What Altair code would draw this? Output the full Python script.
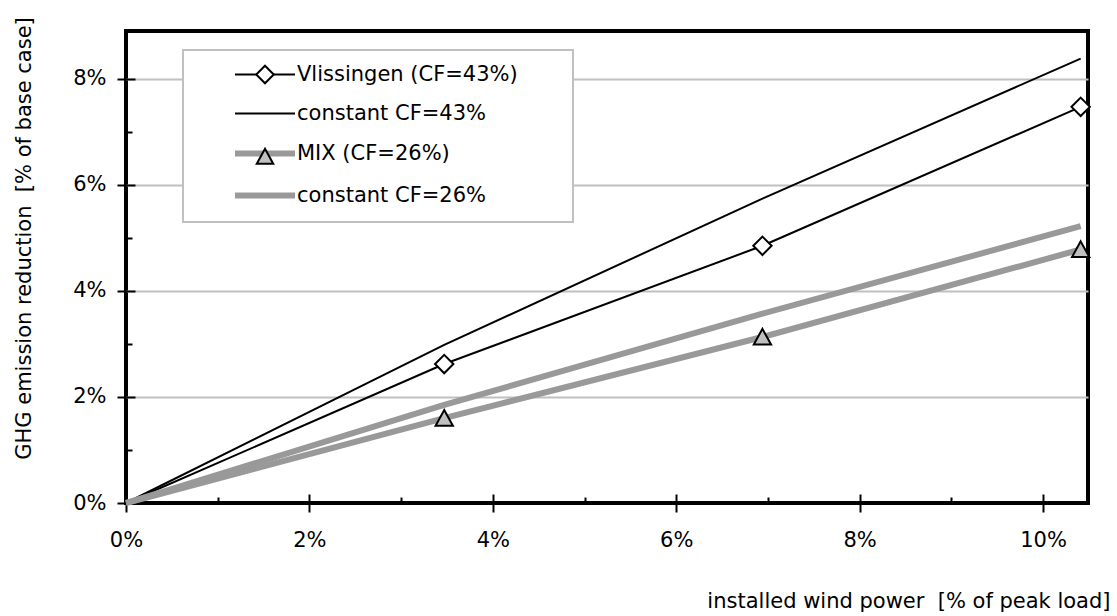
import altair as alt
import pandas as pd

# Installed wind power (% of peak load) at which each scenario was evaluated
x_pct = [0.0, 3.47, 6.94, 10.41]

# GHG emission reduction (% of base case)
vlissingen = [0.0, 2.62, 4.85, 7.47]
const_43 = [0.0, 2.98, 5.74, 8.38]
mix = [0.0, 1.60, 3.13, 4.78]
const_26 = [0.0, 1.85, 3.57, 5.22]

series_names = ["Vlissingen (CF=43%)", "constant CF=43%", "MIX (CF=26%)", "constant CF=26%"]
series_values = [vlissingen, const_43, mix, const_26]
has_markers = [True, False, True, False]

x_ticks = [0, 2, 4, 6, 8, 10]
y_ticks = [0, 2, 4, 6, 8]
x_minor = list(range(0, 11))
y_minor = list(range(0, 9))

X_MAX, Y_MAX = 10.49, 8.9
W, H = 962, 472
FONT = "DejaVu Sans"
FS = 21

line_colors = ["black", "black", "#999999", "#999999"]
line_widths = [2, 2, 6, 6]

marker_keys = ["marker " + s for s in series_names]
marker_shapes = [
    "M0,-1.75L1.75,0L0,1.75L-1.75,0Z",
    "M0,0",
    "M0,-1.55L1.65,1.45L-1.65,1.45Z",
    "M0,0",
]
marker_fills = ["white", "transparent", "#c0c0c0", "transparent"]

rows = []
for name, vals in zip(series_names, series_values):
    for xv, yv in zip(x_pct, vals):
        rows.append({"x": xv, "y": yv, "series": name})
lines_df = pd.DataFrame(rows)

prow = []
for key, vals, mk in zip(marker_keys, series_values, has_markers):
    if not mk:
        continue
    for xv, yv in zip(x_pct[1:], vals[1:]):
        prow.append({"x": xv, "y": yv, "marker": key})
points_df = pd.DataFrame(prow)

x_scale = alt.Scale(domain=[0, X_MAX], nice=False, zero=False)
y_scale = alt.Scale(domain=[0, Y_MAX], nice=False, zero=False)

inner_tick = {"condition": {"test": "datum.value % 2 === 0", "value": 9}, "value": 6}

common_legend = dict(
    title=None,
    orient="none",
    legendX=57,
    legendY=19,
    padding=14,
    rowPadding=17,
    symbolSize=100,
    symbolOffset=57.5,
    labelOffset=21.5,
    labelFont=FONT,
    labelFontSize=FS,
    labelColor="black",
    labelLimit=500,
)

# line swatch plus a zero-length segment that widens the legend frame
legend_lines = alt.Legend(
    fillColor="white",
    strokeColor="#c0c0c0",
    symbolType="M-6,0H6M56.2,0H56.201",
    zindex=1,
    **common_legend,
)
legend_markers = alt.Legend(
    symbolStrokeWidth=2,
    labelExpr="''",
    zindex=2,
    **common_legend,
)

lines = alt.Chart(lines_df).mark_line().encode(
    x=alt.X(
        "x:Q",
        scale=x_scale,
        axis=alt.Axis(
            values=x_ticks,
            labelExpr="datum.value + '%'",
            tickSize=9,
            tickWidth=2,
            tickColor="black",
            domain=False,
            grid=False,
            labelFont=FONT,
            labelFontSize=FS,
            labelColor="black",
            labelPadding=17,
            labelFlush=False,
            labelOverlap=False,
            title="installed wind power \u00a0[% of peak load]",
            titleFont=FONT,
            titleFontSize=FS,
            titleFontWeight="normal",
            titleColor="black",
            titleX=984,
            titleY=98,
            titleAlign="right",
            titleBaseline="middle",
        ),
    ),
    y=alt.Y(
        "y:Q",
        scale=y_scale,
        axis=alt.Axis(
            values=y_ticks,
            labelExpr="datum.value + '%'",
            tickSize=9,
            tickWidth=2,
            tickColor="black",
            domain=False,
            grid=True,
            gridColor="#c0c0c0",
            gridWidth=2,
            gridOpacity={"condition": {"test": "datum.value > 0", "value": 1}, "value": 0},
            labelFont=FONT,
            labelFontSize=FS,
            labelColor="black",
            labelPadding=11,
            labelFlush=False,
            labelOverlap=False,
            title="GHG emission reduction \u00a0[% of base case]",
            titleFont=FONT,
            titleFontSize=FS,
            titleFontWeight="normal",
            titleColor="black",
            titleAngle=270,
            titleX=-102,
            titleY=207,
            titleAlign="center",
            titleBaseline="middle",
        ),
    ),
    color=alt.Color(
        "series:N",
        scale=alt.Scale(domain=series_names, range=line_colors),
        legend=legend_lines,
    ),
    strokeWidth=alt.StrokeWidth(
        "series:N",
        scale=alt.Scale(type="ordinal", domain=series_names, range=line_widths),
        legend=legend_lines,
    ),
)

points = alt.Chart(points_df).mark_point(
    filled=True, stroke="black", strokeWidth=2, size=110, opacity=1
).encode(
    x=alt.X(
        "x:Q",
        scale=x_scale,
        axis=alt.Axis(
            orient="top",
            offset=-H,
            values=x_minor,
            tickSize=inner_tick,
            tickWidth=2,
            tickColor="black",
            labels=False,
            domain=False,
            grid=False,
            title=None,
        ),
    ),
    y=alt.Y(
        "y:Q",
        scale=y_scale,
        axis=alt.Axis(
            orient="right",
            offset=-W,
            values=y_minor,
            tickSize=inner_tick,
            tickWidth=2,
            tickColor="black",
            labels=False,
            domain=False,
            grid=False,
            title=None,
        ),
    ),
    shape=alt.Shape(
        "marker:N",
        scale=alt.Scale(domain=marker_keys, range=marker_shapes),
        legend=legend_markers,
    ),
    fill=alt.Fill(
        "marker:N",
        scale=alt.Scale(domain=marker_keys, range=marker_fills),
        legend=legend_markers,
    ),
)

chart = (
    alt.layer(lines, points)
    .resolve_axis(x="independent", y="independent")
    .properties(
        width=W,
        height=H,
        autosize=alt.AutoSizeParams(type="none"),
        padding={"left": 126, "top": 31, "right": 29, "bottom": 113},
        background="white",
    )
    .configure(font=FONT)
    .configure_view(stroke="black", strokeWidth=4)
    .configure_legend(strokeWidth=2)
)

chart.save("out.html", embed_options={"renderer": "svg", "actions": False})
